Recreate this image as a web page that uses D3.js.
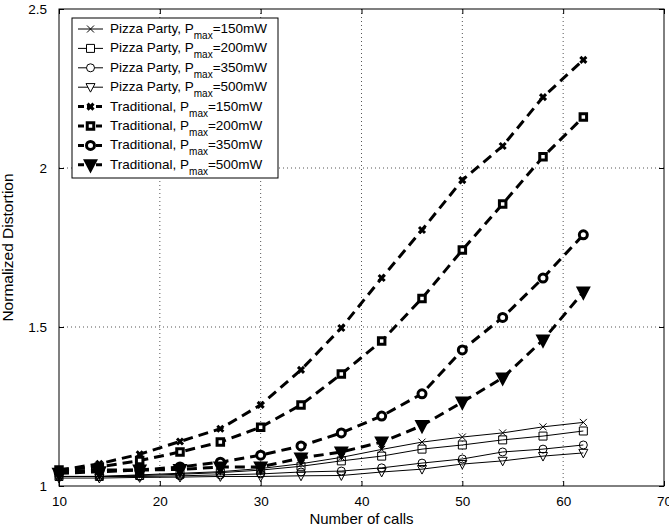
<!DOCTYPE html>
<html>
<head>
<meta charset="utf-8">
<script src="https://cdn.jsdelivr.net/npm/d3@7"></script>
<style>
  body { margin: 0; background: #fff; }
  svg text { font-family: Arial, 'Liberation Sans', sans-serif; fill: #000; }
</style>
</head>
<body>
<div id="graph"></div>
<script>
// The data...
var calls = [ 10, 14, 18, 22, 26, 30, 34, 38, 42, 46, 50, 54, 58, 62 ];

var pizza150 = [ 1.030, 1.030, 1.035, 1.040, 1.045, 1.055, 1.070, 1.090, 1.115, 1.138, 1.154, 1.167, 1.186, 1.200 ];
var pizza200 = [ 1.030, 1.030, 1.033, 1.037, 1.042, 1.050, 1.062, 1.079, 1.094, 1.116, 1.129, 1.145, 1.157, 1.173 ];
var pizza350 = [ 1.030, 1.030, 1.030, 1.032, 1.035, 1.038, 1.044, 1.047, 1.057, 1.072, 1.085, 1.107, 1.116, 1.129 ];
var pizza500 = [ 1.025, 1.025, 1.027, 1.028, 1.030, 1.030, 1.032, 1.033, 1.044, 1.053, 1.069, 1.079, 1.094, 1.104 ];

var trad150  = [ 1.050, 1.070, 1.100, 1.140, 1.180, 1.255, 1.365, 1.497, 1.654, 1.805, 1.962, 2.069, 2.223, 2.340 ];
var trad200  = [ 1.050, 1.060, 1.080, 1.107, 1.138, 1.185, 1.255, 1.352, 1.456, 1.590, 1.742, 1.887, 2.035, 2.160 ];
var trad350  = [ 1.045, 1.050, 1.050, 1.060, 1.075, 1.097, 1.126, 1.167, 1.220, 1.290, 1.428, 1.530, 1.654, 1.790 ];
var trad500  = [ 1.040, 1.045, 1.050, 1.052, 1.060, 1.060, 1.088, 1.107, 1.138, 1.190, 1.264, 1.340, 1.459, 1.610 ];

var xTicks = [ 10, 20, 30, 40, 50, 60, 70 ];
var yTicks = [ 1, 1.5, 2, 2.5 ];

var series = [
    { name: 'Pizza Party, P', power: '=150mW', values: pizza150, marker: 'x',        bold: false },
    { name: 'Pizza Party, P', power: '=200mW', values: pizza200, marker: 'square',   bold: false },
    { name: 'Pizza Party, P', power: '=350mW', values: pizza350, marker: 'circle',   bold: false },
    { name: 'Pizza Party, P', power: '=500mW', values: pizza500, marker: 'triangle', bold: false },
    { name: 'Traditional, P', power: '=150mW', values: trad150,  marker: 'x',        bold: true  },
    { name: 'Traditional, P', power: '=200mW', values: trad200,  marker: 'square',   bold: true  },
    { name: 'Traditional, P', power: '=350mW', values: trad350,  marker: 'circle',   bold: true  },
    { name: 'Traditional, P', power: '=500mW', values: trad500,  marker: 'triangle', bold: true  }
];

var margin = { top: 9, right: 5, bottom: 41, left: 59 };
var width  = 669 - margin.left - margin.right;
var height = 527 - margin.top - margin.bottom;

var svg = d3.select('#graph').append('svg')
            .attr('width', 669)
            .attr('height', 527)
            .append('g')
            .attr('transform', 'translate(' + margin.left + ',' + margin.top + ')');

var xScale = d3.scaleLinear().domain([ 10, 70 ]).range([ 0, width ]);
var yScale = d3.scaleLinear().domain([ 1, 2.5 ]).range([ height, 0 ]);

// dotted grid
svg.append('g').selectAll('line')
   .data(xTicks.slice(1, -1))
   .enter().append('line')
   .attr('x1', function(d) { return xScale(d); })
   .attr('x2', function(d) { return xScale(d); })
   .attr('y1', 0).attr('y2', height)
   .attr('stroke', '#555').attr('stroke-width', 1)
   .attr('stroke-dasharray', '1,3');

svg.append('g').selectAll('line')
   .data(yTicks.slice(1, -1))
   .enter().append('line')
   .attr('y1', function(d) { return yScale(d); })
   .attr('y2', function(d) { return yScale(d); })
   .attr('x1', 0).attr('x2', width)
   .attr('stroke', '#555').attr('stroke-width', 1)
   .attr('stroke-dasharray', '1,3');

// axes with inward ticks
var xAxis = d3.axisBottom(xScale).tickValues(xTicks).tickSizeInner(-5).tickSizeOuter(0).tickPadding(10);
var yAxis = d3.axisLeft(yScale).tickValues(yTicks).tickSizeInner(-5).tickSizeOuter(0).tickPadding(12)
              .tickFormat(function(d) { return d; });

var gx = svg.append('g').attr('transform', 'translate(0,' + height + ')').call(xAxis);
var gy = svg.append('g').call(yAxis);
svg.append('g').call(d3.axisTop(xScale).tickValues(xTicks).tickSizeInner(-5).tickSizeOuter(0).tickFormat(''));
svg.append('g').attr('transform', 'translate(' + width + ',0)')
   .call(d3.axisRight(yScale).tickValues(yTicks).tickSizeInner(-5).tickSizeOuter(0).tickFormat(''));

svg.selectAll('.domain').remove();
svg.selectAll('.tick line').attr('stroke', '#000');
gx.selectAll('text').attr('font-size', '13.5px').attr('font-family', 'Arial, Liberation Sans, sans-serif').attr('fill', '#000');
gy.selectAll('text').attr('font-size', '13.5px').attr('font-family', 'Arial, Liberation Sans, sans-serif').attr('fill', '#000')
  .attr('dy', '0.32em');

svg.append('rect')
   .attr('x', 0).attr('y', 0).attr('width', width).attr('height', height)
   .attr('fill', 'none').attr('stroke', '#000').attr('stroke-width', 1);

// markers
function markerPath(type, s)
{
    var h = s / 2;
    if (type == 'x')
        return 'M' + (-h) + ',' + (-h) + 'L' + h + ',' + h + 'M' + (-h) + ',' + h + 'L' + h + ',' + (-h);
    if (type == 'square')
        return 'M' + (-h) + ',' + (-h) + 'H' + h + 'V' + h + 'H' + (-h) + 'Z';
    if (type == 'circle')
        return 'M' + h + ',0A' + h + ',' + h + ' 0 1,1 ' + (-h) + ',0A' + h + ',' + h + ' 0 1,1 ' + h + ',0Z';
    // downward triangle
    return 'M' + (-h) + ',' + (-h * 0.8) + 'L' + h + ',' + (-h * 0.8) + 'L0,' + (h * 1.1) + 'Z';
}

function markerSize(d)
{
    if (d.bold) return d.marker == 'x' ? 6 : (d.marker == 'triangle' ? 10 : (d.marker == 'circle' ? 8 : 6.5));
    return d.marker == 'x' ? 7 : (d.marker == 'triangle' ? 9 : 8);
}

var line = d3.line()
             .x(function(d, i) { return xScale(calls[i]); })
             .y(function(d) { return yScale(d); });

series.forEach(function(s)
{
    var g = svg.append('g');

    g.append('path')
     .attr('d', line(s.values))
     .attr('fill', 'none')
     .attr('stroke', '#000')
     .attr('stroke-width', s.bold ? 3 : 1)
     .attr('stroke-dasharray', s.bold ? '10,6' : null);

    g.selectAll('path.mk')
     .data(s.values)
     .enter().append('path')
     .attr('class', 'mk')
     .attr('transform', function(d, i) { return 'translate(' + xScale(calls[i]) + ',' + yScale(d) + ')'; })
     .attr('d', markerPath(s.marker, markerSize(s)))
     .attr('fill', s.bold && s.marker == 'triangle' ? '#000' : '#fff')
     .attr('fill-opacity', s.bold || s.marker == 'x' ? 1 : 0)
     .attr('stroke', '#000')
     .attr('stroke-width', s.bold ? 3 : 1);
});

// legend
var legend = svg.append('g').attr('transform', 'translate(13,9)');
legend.append('rect')
      .attr('x', 0).attr('y', 0).attr('width', 206).attr('height', 160)
      .attr('fill', '#fff').attr('stroke', '#000').attr('stroke-width', 1);

series.forEach(function(s, i)
{
    var y = 11 + i * 19.4;
    var row = legend.append('g').attr('transform', 'translate(0,' + y + ')');

    row.append('line')
       .attr('x1', 6).attr('x2', 31).attr('y1', 0).attr('y2', 0)
       .attr('stroke', '#000')
       .attr('stroke-width', s.bold ? 3 : 1)
       .attr('stroke-dasharray', s.bold ? '6,3' : null);

    row.append('path')
       .attr('transform', 'translate(18.5,0)')
       .attr('d', markerPath(s.marker, markerSize(s)))
       .attr('fill', s.bold && s.marker == 'triangle' ? '#000' : '#fff')
       .attr('stroke', '#000')
       .attr('stroke-width', s.bold ? 3 : 1);

    var t = row.append('text')
               .attr('x', 38).attr('y', 4)
               .attr('font-size', '13.5px');
    t.append('tspan').text(s.name);
    t.append('tspan').attr('dy', 6).attr('font-size', '10px').text('max');
    t.append('tspan').attr('dy', -6).text(s.power);
});

// axis titles
svg.append('text')
   .attr('x', width / 2).attr('y', height + 38)
   .attr('text-anchor', 'middle')
   .attr('font-size', '15px')
   .text('Number of calls');

svg.append('text')
   .attr('transform', 'translate(' + (-46) + ',' + (height / 2) + ') rotate(-90)')
   .attr('text-anchor', 'middle')
   .attr('font-size', '15.5px')
   .text('Normalized Distortion');
</script>
</body>
</html>
